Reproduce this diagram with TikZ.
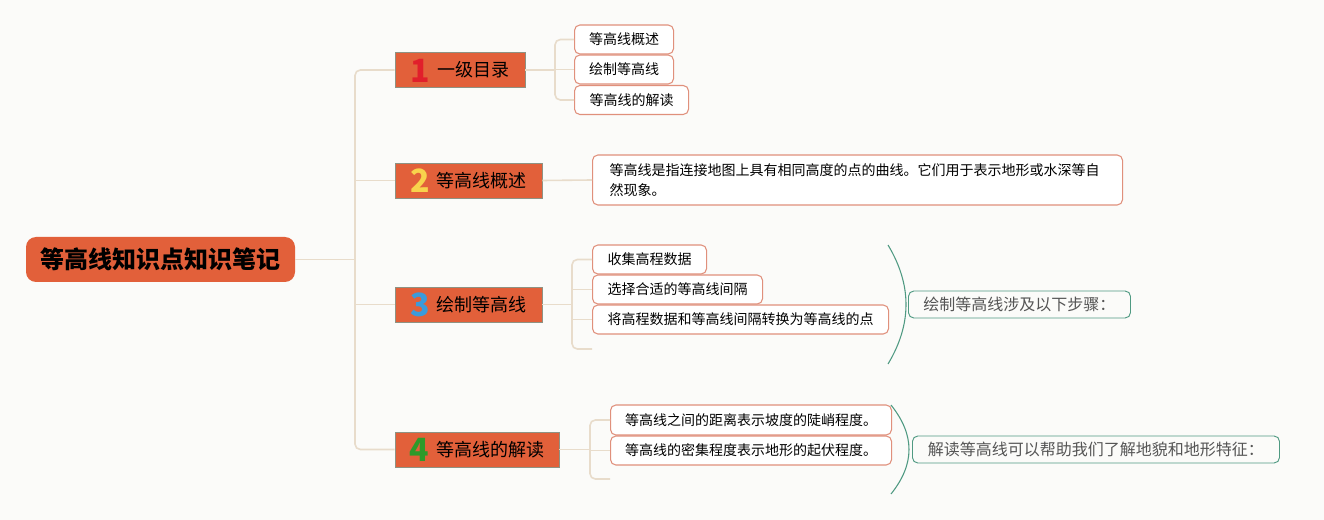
\documentclass[tikz,border=0pt]{standalone}
\usepackage{fontspec}
\setmainfont{Noto Sans CJK SC}
\definecolor{bg}{HTML}{FBFBF9}
\definecolor{rootc}{HTML}{E2603A}
\definecolor{l1c}{HTML}{E2603A}
\definecolor{l1b}{HTML}{8E9283}
\definecolor{linec}{HTML}{E8DCCB}
\definecolor{leafb}{HTML}{E0907C}
\definecolor{tealc}{HTML}{4F9A82}
\definecolor{sumtext}{HTML}{555555}
\definecolor{d1}{HTML}{E11F2B}
\definecolor{d2}{HTML}{F8D34C}
\definecolor{d3}{HTML}{3B9BDB}
\definecolor{d4}{HTML}{2E9A2A}
\newcommand\dig[2]{\smash{\raisebox{-4pt}{\color{#1}\fontsize{24pt}{24pt}\selectfont\bfseries #2}}}
\tikzset{
 conn/.style={draw=linec, line width=1.2pt},
 rootbox/.style={fill=rootc, rounded corners=7.5pt, minimum width=201.75pt, minimum height=33.75pt, inner sep=0pt, font=\fontsize{18pt}{20pt}\selectfont\bfseries},
 l1box/.style={fill=l1c, draw=l1b, line width=0.6pt, minimum height=26.25pt, inner sep=0pt, font=\fontsize{13.5pt}{15pt}\selectfont},
 leaf/.style={draw=leafb, fill=white, line width=0.8pt, rounded corners=4pt, minimum height=21.75pt, inner sep=0pt, anchor=west, font=\fontsize{10.5pt}{15pt}\selectfont},
 summ/.style={draw=tealc, line width=0.7pt, rounded corners=4pt, minimum height=20.25pt, inner sep=0pt, anchor=west, text=sumtext, font=\fontsize{12pt}{14pt}\selectfont},
 bracel/.style={draw=tealc, line width=0.8pt},
}
\begin{document}
\begin{tikzpicture}[x=0.75pt,y=-0.75pt]
\fill[bg] (0,0) rectangle (1324,520);
\useasboundingbox (0,0) rectangle (1324,520);

% root
\node[rootbox] (root) at (160.5,259.5) {等高线知识点知识笔记};

% level 1
\node[l1box, minimum width=97.5pt] (n1) at (460,70) {\dig{d1}{1}\hspace{5pt}一级目录};
\node[l1box, minimum width=110.25pt] (n2) at (468.5,180.5) {\dig{d2}{2}\hspace{5pt}等高线概述};
\node[l1box, minimum width=110.25pt] (n3) at (468.5,304.5) {\dig{d3}{3}\hspace{5pt}绘制等高线};
\node[l1box, minimum width=123pt] (n4) at (477,449.5) {\dig{d4}{4}\hspace{5pt}等高线的解读};

% trunk
\coordinate (t) at (355,259.5);
\draw[conn] (root.east) -- (t);
\draw[conn, rounded corners=4pt] (n1.west) -- (t |- n1.west) -- (t |- n4.west) -- (n4.west);
\draw[conn] (t |- n2.west) -- (n2.west);
\draw[conn] (t |- n3.west) -- (n3.west);

% children of 1
\node[leaf, minimum width=74.25pt] (a1) at (574,39.5) {等高线概述};
\node[leaf, minimum width=74.25pt] (a2) at (574,69.5) {绘制等高线};
\node[leaf, minimum width=85.5pt] (a3) at (574,100) {等高线的解读};
\coordinate (j1) at (555,70);
\draw[conn] (n1.east) -- (j1);
\draw[conn, rounded corners=4pt] (a1.west) -- (j1 |- a1.west) -- (j1 |- a3.west) -- (a3.west);
\draw[conn] (j1 |- a2.west) -- (a2.west);

% child of 2
\node[leaf, minimum width=397.5pt, minimum height=37.5pt, inner xsep=12.75pt, text width=372pt, align=left] (b1) at (592,180) {等高线是指连接地图上具有相同高度的点的曲线。它们用于表示地形或水深等自\\然现象。};
\draw[conn] (n2.east) -- (b1.west);

% children of 3
\node[leaf, minimum width=85.5pt] (c1) at (592,259.5) {收集高程数据};
\node[leaf, minimum width=127.5pt] (c2) at (592,289.5) {选择合适的等高线间隔};
\node[leaf, minimum width=222pt] (c3) at (592,319.5) {将高程数据和等高线间隔转换为等高线的点};
\coordinate (j3) at (572,304.5);
\coordinate (e3) at (592,349);
\draw[conn] (n3.east) -- (j3);
\draw[conn, rounded corners=4pt] (c1.west) -- (j3 |- c1.west) -- (j3 |- e3) -- (e3);
\draw[conn] (j3 |- c2.west) -- (c2.west);
\draw[conn] (j3 |- c3.west) -- (c3.west);
\coordinate (br3a) at (888,245);
\coordinate (br3b) at (888,364);
\draw[bracel] (br3a) .. controls +(24,40) and +(24,-40) .. (br3b);
\node[summ, minimum width=166.5pt] (s3) at (908,304.5) {绘制等高线涉及以下步骤：};

% children of 4
\node[leaf, minimum width=210.75pt, minimum height=22.5pt] (d1n) at (610,420) {等高线之间的距离表示坡度的陡峭程度。};
\node[leaf, minimum width=210.75pt] (d2n) at (610,450.5) {等高线的密集程度表示地形的起伏程度。};
\coordinate (j4) at (590,449.5);
\coordinate (e4) at (610,479);
\draw[conn] (n4.east) -- (j4);
\draw[conn, rounded corners=4pt] (d1n.west) -- (j4 |- d1n.west) -- (j4 |- e4) -- (e4);
\draw[conn] (j4 |- d2n.west) -- (d2n.west);
\coordinate (br4a) at (891,405);
\coordinate (br4b) at (891,494);
\draw[bracel] (br4a) .. controls +(24,30) and +(24,-30) .. (br4b);
\node[summ, minimum width=275.25pt] (s4) at (912,449.5) {解读等高线可以帮助我们了解地貌和地形特征：};
\end{tikzpicture}
\end{document}
